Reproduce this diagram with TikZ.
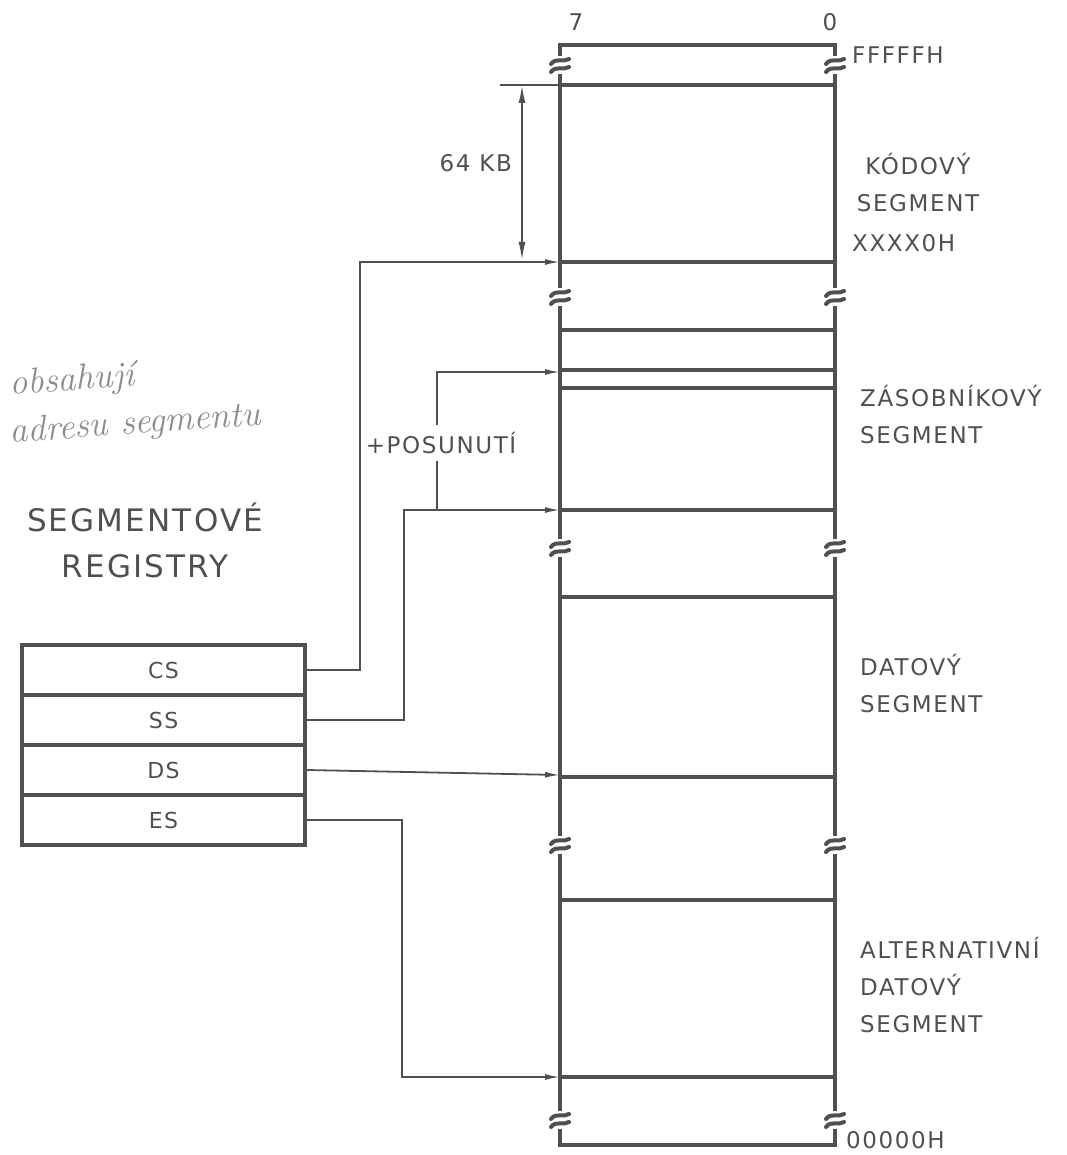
\documentclass[tikz,border=0pt]{standalone}
\usepackage{fontspec}
\newfontfamily\drawfont{DejaVu Sans}[LetterSpace=7]
\usetikzlibrary{arrows.meta}
\definecolor{ink}{HTML}{505050}
\definecolor{pencil}{HTML}{8C8C8C}
\tikzset{
  wall/.style={ink,line width=4.5pt},
  cell/.style={ink,line width=3.5pt},
  conn/.style={ink,line width=1.8pt},
  tip/.style={-{Latex[length=15pt,width=6pt]}},
  reg/.style={draw=ink,line width=3.5pt,minimum width=283pt,minimum height=50pt,
    inner sep=0pt,text=ink,font=\drawfont\fontsize{22}{26}\selectfont},
  lbl/.style={text=ink,font=\drawfont\fontsize{23}{37}\selectfont,inner sep=0pt},
}
% break in the column wall
\newcommand\brkmark[2]{%
  \fill[white] (#1-11,#2-9) rectangle (#1+11,#2+9);
  \draw[ink,line width=4pt,line cap=round] (#1-9,#2-1) .. controls (#1-4,#2-8) and (#1+3,#2-2) .. (#1+9,#2-6);
  \draw[ink,line width=4pt,line cap=round] (#1-9,#2+7) .. controls (#1-4,#2) and (#1+3,#2+6) .. (#1+9,#2+2);
}
\begin{document}
\begin{tikzpicture}[x=1pt,y=-1pt]
\useasboundingbox (0,0) rectangle (1066,1155);
% memory
\foreach \y in {85,262,330,370,388,510,597,777,900,1077}
	\draw[cell] (560,\y) -- (835,\y);
\draw[wall] (560,1145) -- (560,45) -- (835,45) -- (835,1145) -- cycle;
\foreach \y in {65,297,548,845,1120}
{
	\brkmark{560}{\y}
	\brkmark{835}{\y}
}
\node[lbl] (hi) at (576,22) {7};
\node[lbl] (lo) at (830,22) {0};
\coordinate (csbase) at (560,262);
\coordinate (sptr) at (560,372);
\coordinate (ssbase) at (560,510);
\coordinate (dsbase) at (560,775);
\coordinate (esbase) at (560,1077);
% registers
\foreach \y / \r in {670/CS, 720/SS, 770/DS, 820/ES}
	\node[reg] (\r) at (163.5,\y) {\r};
\draw[conn,tip] (CS.east) -- ++(53,0) |- (csbase);
\draw[conn,tip] (SS.east) -- ++(97,0) |- (ssbase);
\coordinate (fork) at (437,510);
\node[lbl,inner xsep=1pt,inner ysep=7pt] (posun) at (441,443) {+POSUNUTÍ};
\draw[conn] (fork) -- (fork |- posun.south);
\draw[conn,tip] (fork |- posun.north) |- (sptr);
\draw[conn,tip] (DS.east) -- (dsbase);
\draw[conn,tip] (ES.east) -- ++(95,0) |- (esbase);
% 64 KB
\coordinate (dimtop) at (500,85);
\draw[conn] (dimtop) -- (560,85);
\draw[conn,{Latex[length=18pt,width=7pt]}-{Latex[length=18pt,width=7pt]}] (522,85) -- (522,260);
\node[lbl,anchor=east] (kb) at (512,163) {64 KB};
% addresses and segments
\node[lbl,anchor=west] (ffff) at (852,55) {FFFFFH};
\node[lbl,anchor=west] (xxxx) at (852,243) {XXXX0H};
\node[lbl,anchor=west] (zero) at (846,1140) {00000H};
\node[lbl,align=center] (kod) at (918,183) {KÓDOVÝ\\SEGMENT};
\node[lbl,anchor=west,align=left] (zas) at (860,414) {ZÁSOBNÍKOVÝ\\SEGMENT};
\node[lbl,anchor=west,align=left] (dat) at (860,683) {DATOVÝ\\SEGMENT};
\node[lbl,anchor=west,align=left] (alt) at (860,985) {ALTERNATIVNÍ\\DATOVÝ\\SEGMENT};
% left side
\node[lbl,align=center,font=\drawfont\fontsize{31}{46}\selectfont] (segreg) at (145,540) {SEGMENTOVÉ\\REGISTRY};
\node[pencil,anchor=west,rotate=4,font=\itshape\fontsize{36}{40}\selectfont] (note1) at (6,386) {obsahují};
\node[pencil,anchor=west,rotate=4,font=\itshape\fontsize{36}{40}\selectfont] (note2) at (6,434) {adresu segmentu};
\end{tikzpicture}
\end{document}
